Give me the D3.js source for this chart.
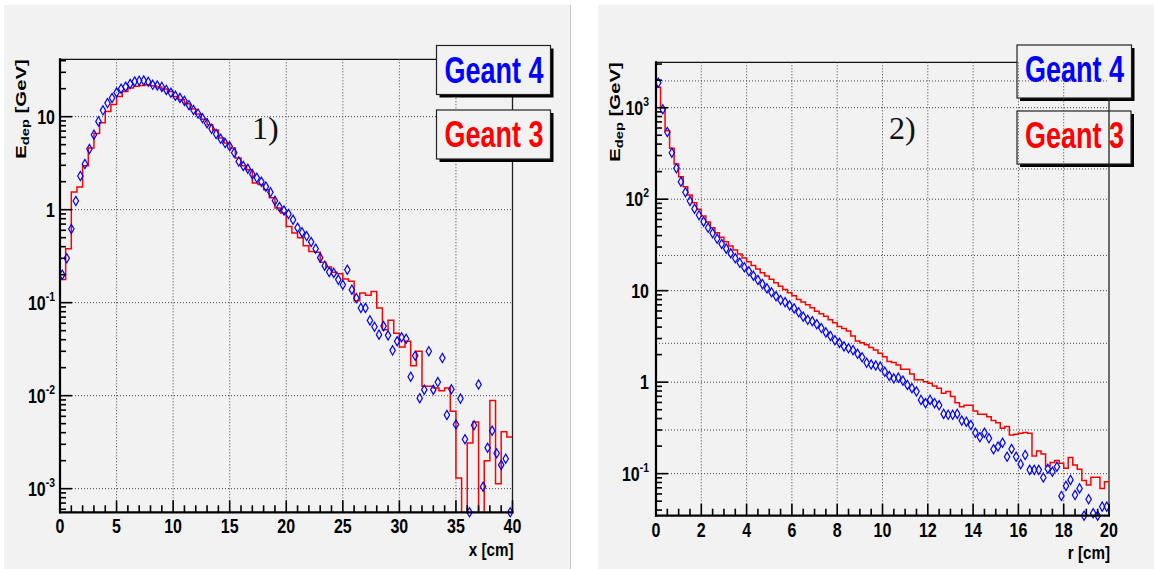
<!DOCTYPE html>
<html>
<head>
<meta charset="utf-8">
<script src="https://cdn.jsdelivr.net/npm/d3@7"></script>
<style>
  body { margin: 0; background: #ffffff; }
  svg { display: block; font-family: "Liberation Sans", Arial, Helvetica, sans-serif; }
</style>
</head>
<body>
<svg id="chart" width="1154" height="569"></svg>
<script>
// ---- data ----
// plot 1) : longitudinal profile, x [cm]
const leftG4Width = 0.4;   // Geant 4 points, bins of 0.4 cm
const leftG4 = [
  0.20, 0.30, 0.62, 1.24, 2.3, 3.1, 4.5, 6.4, 8.9, 11.7,
  14.0, 15.9, 18.2, 20.0, 21.0, 22.5, 23.9, 24.3, 24.5, 23.7,
  22.0, 21.6, 20.9, 19.4, 18.1, 16.8, 15.9, 14.8, 13.3, 11.8,
  10.8, 9.6, 8.5, 7.4, 6.5, 5.8, 5.2, 4.8, 4.1, 3.3,
  2.95, 2.76, 2.41, 2.2, 2.0, 1.77, 1.54, 1.25, 1.07, 0.98,
  0.90, 0.78, 0.64, 0.57, 0.52, 0.45, 0.38, 0.305, 0.25, 0.214,
  0.209, 0.177, 0.156, 0.226, 0.138, 0.112, 0.0877, 0.0877, 0.0645, 0.055,
  0.0453, 0.056, 0.0445, 0.0307, 0.0384, 0.0424, 0.0409, 0.016, 0.0269, 0.0094,
  0.0116, 0.030, 0.0116, 0.014, 0.0254, 0.0062, 0.0117, 0.0049, 0.0093, 0.0034,
  0, 0.0048, 0.0132, 0.00105, 0.00275, 0.0042, 0.0024, 0.0018, 0.0021, 0
];
const leftG3Width = 0.5;   // Geant 3 histogram, bins of 0.5 cm
const leftG3 = [
  0.178, 0.38, 1.55, 1.75, 2.97, 4.6, 6.6, 8.6, 11.4, 13.5,
  16.5, 18.7, 20.3, 21.2, 21.7, 22.0, 21.5, 20.9, 19.9, 18.6,
  16.5, 15.2, 13.8, 12.1, 10.7, 9.4, 8.2, 7.2, 5.9, 5.2,
  4.6, 3.6, 2.97, 2.69, 1.94, 1.86, 1.64, 1.34, 1.04, 0.92,
  0.66, 0.56, 0.50, 0.41, 0.356, 0.348, 0.272, 0.242, 0.212, 0.205,
  0.18, 0.17, 0.105, 0.127, 0.12, 0.132, 0.0877, 0.051, 0.0646, 0.047,
  0.0333, 0.0384, 0.021, 0.030, 0.0126, 0.0126, 0.0121, 0.0113, 0.0121, 0.0068,
  0.0013, 0, 0.0031, 0.0052, 0, 0.0020, 0.0089, 0.00113, 0.0041, 0.0036
];

// plot 2) : radial profile, r [cm]
const rightG4Width = 0.2;
const rightG4 = [
  1875, 961, 542, 322, 218, 155, 119, 95.5, 78.7, 66.7,
  56.8, 48.8, 42.4, 37, 32.4, 28.8, 25.6, 22.6, 20.2, 18,
  16.3, 14.6, 13.1, 11.8, 10.6, 9.6, 8.7, 7.9, 7.5, 6.9,
  6.4, 5.8, 5.2, 4.8, 4.64, 4.3, 3.9, 3.5, 3.2, 2.87,
  2.69, 2.46, 2.35, 2.24, 2.04, 1.87, 1.63, 1.56, 1.52, 1.48,
  1.30, 1.17, 1.10, 1.12, 1.04, 0.93, 0.86, 0.79, 0.64, 0.59,
  0.64, 0.59, 0.56, 0.45, 0.44, 0.44, 0.45, 0.38, 0.37, 0.34,
  0.28, 0.25, 0.28, 0.244, 0.185, 0.198, 0.218, 0.153, 0.186, 0.153,
  0.127, 0.16, 0.11, 0.11, 0.11, 0.0906, 0.113, 0.105, 0.119, 0.0571,
  0.0735, 0.0854, 0.0585, 0.069, 0.034, 0.0525, 0.0369, 0.034, 0.0436, 0.0436
];
const rightG3Width = 0.2;
const rightG3 = [
  1670, 1000, 561, 360, 243, 176, 137, 111, 91.6, 77.6,
  65.5, 56.3, 48.8, 43, 38.4, 34.3, 30.8, 27.9, 25.2, 22.7,
  20.7, 18.9, 17.3, 15.7, 14.5, 13.3, 12.2, 11.2, 10.3, 9.5,
  8.8, 8.0, 7.5, 7.0, 6.5, 5.96, 5.6, 5.25, 4.8, 4.45,
  4.06, 3.87, 3.63, 3.2, 2.82, 2.69, 2.57, 2.39, 2.24, 2.07,
  1.90, 1.68, 1.64, 1.54, 1.38, 1.38, 1.23, 1.06, 1.06, 1.01,
  0.97, 0.91, 0.86, 0.755, 0.79, 0.695, 0.597, 0.54, 0.56, 0.56,
  0.484, 0.445, 0.445, 0.42, 0.38, 0.361, 0.313, 0.327, 0.265, 0.269,
  0.276, 0.281, 0.276, 0.156, 0.177, 0.164, 0.121, 0.132, 0.139, 0.13,
  0.1145, 0.15, 0.1245, 0.1117, 0.084, 0.0753, 0.0913, 0.0913, 0.0687, 0.0818
];

// axis tick labels
const leftXTicks = [0, 5, 10, 15, 20, 25, 30, 35, 40];
const rightXTicks = [0, 2, 4, 6, 8, 10, 12, 14, 16, 18, 20];
const leftYTicks = [1e-3, 1e-2, 1e-1, 1, 10];
const leftYLabels = [["10", "-3"], ["10", "-2"], ["10", "-1"], ["1", ""], ["10", ""]];
const rightYTicks = [1e-1, 1, 10, 100, 1000];
const rightYLabels = [["10", "-1"], ["1", ""], ["10", ""], ["10", "2"], ["10", "3"]];
// grid of the overlaid pad in plot 2 (its decades fall between ours)
const rightExtraGrid = [0.30, 2.66, 24.3, 214, 1960];

const legendNames = ["Geant 4", "Geant 3"];
const legendColors = ["#0000ff", "#ff0000"];

const svg = d3.select("#chart");

// the two grey canvases
svg.append("rect").attr("x", 4).attr("y", 5).attr("width", 567).attr("height", 564).attr("fill", "#f2f2f2");
svg.append("line").attr("x1", 570.5).attr("x2", 570.5).attr("y1", 5).attr("y2", 569)
  .attr("stroke", "#c8c8c8");
svg.append("rect").attr("x", 598).attr("y", 5).attr("width", 556).attr("height", 564).attr("fill", "#f2f2f2");

function squeezedText(g, x, y, anchor, scaleX, size) {
  return g.append("g")
    .attr("transform", `translate(${x},${y}) scale(${scaleX},1)`)
    .append("text")
    .attr("text-anchor", anchor)
    .attr("font-weight", "bold")
    .attr("font-size", size);
}

function drawLegend(g, p) {
  p.legend.forEach((b, i) => {
    g.append("rect")
      .attr("x", b.x + 3).attr("y", b.y + 3).attr("width", b.w).attr("height", b.h)
      .attr("fill", "#000");
    g.append("rect")
      .attr("x", b.x).attr("y", b.y).attr("width", b.w).attr("height", b.h)
      .attr("fill", "#f2f2f2").attr("stroke", "#222").attr("stroke-width", 1.2);
    squeezedText(g, b.x + 8, b.y + 37, "start", 0.75, 36)
      .attr("fill", legendColors[i])
      .text(legendNames[i]);
  });
}

function drawPanel(p) {
  const x = d3.scaleLinear().domain(p.xDomain).range([p.left, p.right]);
  const y = d3.scaleLog().domain(p.yDomain).range([p.bottom, p.top]);
  const g = svg.append("g");

  g.append("clipPath").attr("id", "clip-" + p.id)
    .append("rect")
    .attr("x", p.left).attr("y", p.top)
    .attr("width", p.right - p.left).attr("height", p.bottom - p.top);

  // top frame line (stops under the legend)
  g.append("line")
    .attr("x1", p.left).attr("x2", p.right).attr("y1", p.top).attr("y2", p.top)
    .attr("stroke", "#111").attr("stroke-width", 1.2);

  if (p.legendUnderGrid) drawLegend(g, p);

  // grid
  const grid = g.append("g")
    .attr("stroke", "#444").attr("stroke-width", 1).attr("stroke-dasharray", "1,2");
  const xGrid = p.xTicks.filter(v => v > p.xDomain[0] && v < p.xDomain[1]);
  grid.selectAll(".gx").data(xGrid).join("line")
    .attr("x1", d => x(d)).attr("x2", d => x(d))
    .attr("y1", p.top).attr("y2", p.bottom);
  grid.selectAll(".gy").data(p.yTicks.concat(p.extraGrid)).join("line")
    .attr("x1", p.left).attr("x2", p.right)
    .attr("y1", d => y(d)).attr("y2", d => y(d));

  // right frame line
  g.append("line")
    .attr("x1", p.right).attr("x2", p.right).attr("y1", p.rightFrameTop).attr("y2", p.bottom)
    .attr("stroke", "#222").attr("stroke-width", 1.3);

  // Geant 3 histogram
  const steps = [];
  p.g3.forEach((v, i) => {
    const val = v > 0 ? v : 1e-7;
    steps.push([i * p.g3Width, val], [(i + 1) * p.g3Width, val]);
  });
  g.append("path")
    .attr("clip-path", `url(#clip-${p.id})`)
    .attr("d", d3.line().x(d => x(d[0])).y(d => y(d[1]))(steps))
    .attr("fill", "none").attr("stroke", "#ff0000").attr("stroke-width", 1.5);

  // Geant 4 points (open diamonds)
  g.append("g").selectAll("path").data(p.g4).join("path")
    .attr("transform", (d, i) =>
      `translate(${x((i + 0.5) * p.g4Width)},${y(Math.max(d, p.yDomain[0]))})`)
    .attr("d", "M0,-4.6L2.7,0L0,4.6L-2.7,0Z")
    .attr("fill", "none").attr("stroke", "#0000ff").attr("stroke-width", 1.2);

  // axes: thick left and bottom lines with inward ticks
  const ax = g.append("g").attr("stroke", "#000");
  ax.append("line").attr("x1", p.left).attr("x2", p.left).attr("y1", p.top - 1).attr("y2", p.bottom + 1)
    .attr("stroke-width", 2.2);
  ax.append("line").attr("x1", p.left - 1).attr("x2", p.right + 1).attr("y1", p.bottom).attr("y2", p.bottom)
    .attr("stroke-width", 2.2);

  const xMinor = d3.range(p.xDomain[0], p.xDomain[1] + 1e-9, p.xMinorStep);
  ax.selectAll(".tx").data(xMinor).join("line")
    .attr("x1", d => x(d)).attr("x2", d => x(d))
    .attr("y1", p.bottom)
    .attr("y2", d => p.bottom - (p.xTicks.some(t => Math.abs(t - d) < 1e-6) ? 12 : 7))
    .attr("stroke-width", 1.6);

  const yMinor = [];
  d3.range(Math.floor(Math.log10(p.yDomain[0])), Math.ceil(Math.log10(p.yDomain[1]))).forEach(e => {
    for (let m = 1; m <= 9; m++) {
      const v = m * Math.pow(10, e);
      if (v >= p.yDomain[0] && v <= p.yDomain[1]) yMinor.push({ v, major: m === 1 });
    }
  });
  ax.selectAll(".ty").data(yMinor).join("line")
    .attr("x1", p.left).attr("x2", d => p.left + (d.major ? 12 : 6))
    .attr("y1", d => y(d.v)).attr("y2", d => y(d.v))
    .attr("stroke-width", 1.6);

  // tick labels
  p.xTicks.forEach(t => {
    squeezedText(g, x(t), p.bottom + 21, "middle", 0.8, 20).text(t);
  });
  p.yTicks.forEach((t, i) => {
    const lab = p.yLabels[i];
    const txt = squeezedText(g, p.left - p.yLabelGap, y(t) + 7, "end", 0.8, 20);
    txt.append("tspan").text(lab[0]);
    if (lab[1]) txt.append("tspan").attr("font-size", 13).attr("dy", -9).text(lab[1]);
  });

  // axis titles (the picture is stretched vertically, so the rotated title is long and thin)
  squeezedText(g, p.right + 1, p.xTitleY, "end", 0.8, 19).text(p.xTitle);
  const yt = g.append("text")
    .attr("transform", `translate(${p.yTitleX},${p.top}) rotate(-90) scale(1.4,1)`)
    .attr("text-anchor", "end").attr("font-weight", "bold").attr("font-size", 14.5);
  yt.append("tspan").text("E");
  yt.append("tspan").attr("font-size", 10.5).attr("dy", 3).text("dep");
  yt.append("tspan").attr("dy", -3).text(" [GeV]");

  // panel tag
  g.append("text")
    .attr("x", p.tagX).attr("y", 139)
    .attr("font-family", "'Liberation Serif', 'DejaVu Serif', serif")
    .attr("font-size", 32)
    .attr("fill", "#111")
    .text(p.tag);

  if (!p.legendUnderGrid) drawLegend(g, p);
}

drawPanel({
  id: "left", left: 60, right: 512.5, top: 59.3, bottom: 512.3,
  xDomain: [0, 40], yDomain: [5.57e-4, 41.4],
  xTicks: leftXTicks, xMinorStep: 1,
  yTicks: leftYTicks, yLabels: leftYLabels, extraGrid: [],
  yLabelGap: 5,
  g4: leftG4, g4Width: leftG4Width, g3: leftG3, g3Width: leftG3Width,
  xTitle: "x [cm]", xTitleY: 556, yTitleX: 26,
  tag: "1)", tagX: 252,
  legendUnderGrid: false, rightFrameTop: 59.3,
  legend: [{ x: 436.5, y: 45.5, w: 114, h: 49 }, { x: 436.5, y: 110, w: 114, h: 49 }]
});

drawPanel({
  id: "right", left: 656, right: 1109, top: 62.3, bottom: 515.7,
  xDomain: [0, 20], yDomain: [0.0347, 3135],
  xTicks: rightXTicks, xMinorStep: 0.5,
  yTicks: rightYTicks, yLabels: rightYLabels, extraGrid: rightExtraGrid,
  yLabelGap: 7,
  g4: rightG4, g4Width: rightG4Width, g3: rightG3, g3Width: rightG3Width,
  xTitle: "r [cm]", xTitleY: 559, yTitleX: 620,
  tag: "2)", tagX: 889,
  legendUnderGrid: true, rightFrameTop: 98,
  legend: [{ x: 1017, y: 45, w: 114.5, h: 53 }, { x: 1017, y: 111, w: 114, h: 53 }]
});
</script>
</body>
</html>
